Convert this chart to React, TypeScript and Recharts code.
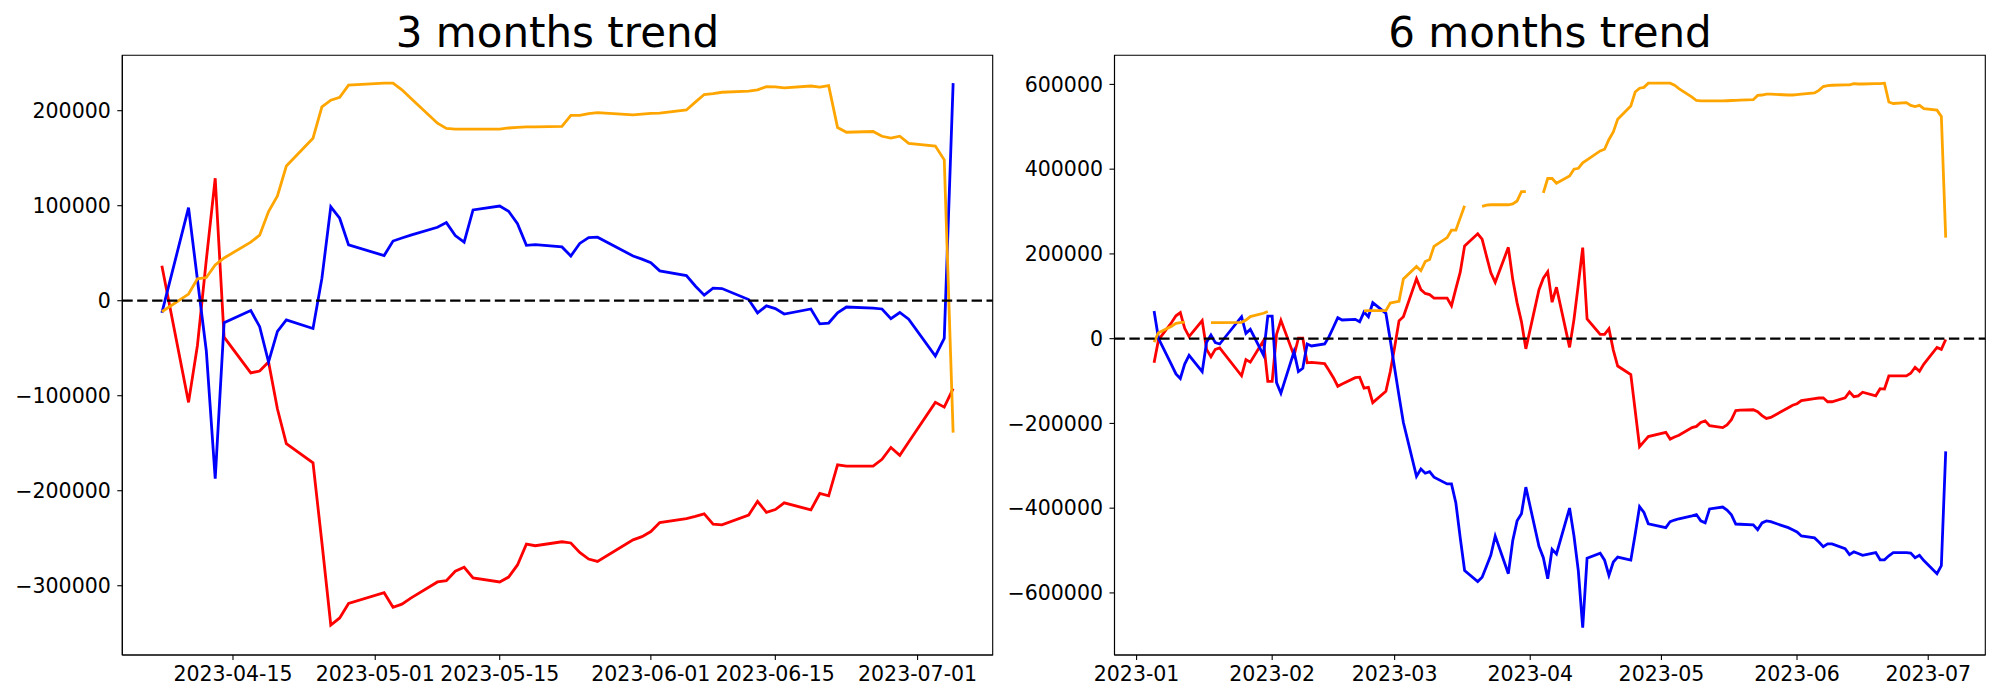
import React from 'react';
import { LineChart, Line, XAxis, YAxis, ReferenceLine, ReferenceArea } from 'recharts';

// ---- 3 months window (trading days) ----
const dates3m = [
  '2023-04-07', '2023-04-10', '2023-04-11', '2023-04-12', '2023-04-13', '2023-04-14',
  '2023-04-17', '2023-04-18', '2023-04-19', '2023-04-20', '2023-04-21',
  '2023-04-24', '2023-04-25', '2023-04-26', '2023-04-27', '2023-04-28',
  '2023-05-02', '2023-05-03', '2023-05-04', '2023-05-05',
  '2023-05-08', '2023-05-09', '2023-05-10', '2023-05-11', '2023-05-12',
  '2023-05-15', '2023-05-16', '2023-05-17', '2023-05-18', '2023-05-19',
  '2023-05-22', '2023-05-23', '2023-05-24', '2023-05-25', '2023-05-26',
  '2023-05-30', '2023-05-31', '2023-06-01', '2023-06-02',
  '2023-06-05', '2023-06-06', '2023-06-07', '2023-06-08', '2023-06-09',
  '2023-06-12', '2023-06-13', '2023-06-14', '2023-06-15', '2023-06-16',
  '2023-06-19', '2023-06-20', '2023-06-21', '2023-06-22', '2023-06-23',
  '2023-06-26', '2023-06-27', '2023-06-28', '2023-06-29', '2023-06-30',
  '2023-07-03', '2023-07-04', '2023-07-05',
];
const red3m = [
  36800, -107000, -47100, 43000, 128900, -38400, -76000, -74000, -64500, -114000, -150400,
  -170700, -254500, -341300, -333900, -318600,
  -307400, -322700, -319400, -313000, -296000, -294600, -284700, -280600, -291700,
  -296000, -290900, -278100, -256200, -257900, -253700, -255000, -264900, -271900, -274400,
  -251700, -248300, -243000, -233500,
  -229300, -227000, -224400, -235100, -236000, -225600, -211200, -222700, -219800, -212800,
  -220200, -202900, -205400, -172700, -174000, -174000, -166900, -154500, -162800, -148800,
  -107000, -112000, -92600,
];
const blue3m = [
  -12800, 97900, 22300, -52900, -187200, -23100, -10300, -27300, -64500, -32200, -20200,
  -29300, 23500, 98800, 86800, 58700,
  47500, 62800, 66000, 69000, 77300, 82200, 68600, 61600, 95500,
  99600, 94200, 81000, 58300, 59100, 56600, 47100, 60300, 66500, 66900,
  47100, 43800, 40100, 31400,
  26400, 15500, 5800, 13200, 12800, 1200, -12800, -5400, -8300, -14000,
  -8700, -24400, -23500, -12800, -6600, -7900, -8700, -19000, -12400, -19400,
  -58200, -39700, 229000,
];
const orange3m = [
  -11600, 7000, 23100, 24400, 37600, 45000, 61600, 69000, 93800, 110300, 141700,
  171000, 204000, 211000, 214000, 226900,
  229000, 229000, 222000, 213000, 186800, 181400, 180600, 180600, 180600,
  180600, 181800, 182500, 183000, 183000, 183500, 195000, 195000, 197000, 198000,
  195500, 196300, 197100, 197500,
  200800, 209000, 217000, 218000, 219400, 220700, 221900, 225200, 225000, 224000,
  226000, 224800, 226400, 182200, 177300, 178100, 173100, 171100, 173100, 165700,
  162800, 148300, -138800,
];

// ---- 6 months window (trading days) ----
const dates6m = [
  '2023-01-05', '2023-01-06', '2023-01-09', '2023-01-10', '2023-01-11', '2023-01-12', '2023-01-13',
  '2023-01-16', '2023-01-17', '2023-01-18', '2023-01-19', '2023-01-20',
  '2023-01-25', '2023-01-26', '2023-01-27', '2023-01-30', '2023-01-31',
  '2023-02-01', '2023-02-02', '2023-02-03', '2023-02-06', '2023-02-07', '2023-02-08', '2023-02-09',
  '2023-02-10', '2023-02-13', '2023-02-14', '2023-02-15', '2023-02-16', '2023-02-17',
  '2023-02-20', '2023-02-21', '2023-02-22', '2023-02-23', '2023-02-24', '2023-02-27', '2023-02-28',
  '2023-03-01', '2023-03-02', '2023-03-03', '2023-03-06', '2023-03-07', '2023-03-08', '2023-03-09',
  '2023-03-10', '2023-03-13', '2023-03-14', '2023-03-15', '2023-03-16', '2023-03-17',
  '2023-03-20', '2023-03-21', '2023-03-22', '2023-03-23', '2023-03-24',
  '2023-03-27', '2023-03-28', '2023-03-29', '2023-03-30', '2023-03-31',
  '2023-04-03', '2023-04-04', '2023-04-05', '2023-04-06', '2023-04-07',
  '2023-04-10', '2023-04-11', '2023-04-12', '2023-04-13', '2023-04-14',
  '2023-04-17', '2023-04-18', '2023-04-19', '2023-04-20', '2023-04-21',
  '2023-04-24', '2023-04-25', '2023-04-26', '2023-04-27', '2023-04-28',
  '2023-05-02', '2023-05-03', '2023-05-04', '2023-05-05',
  '2023-05-08', '2023-05-09', '2023-05-10', '2023-05-11', '2023-05-12',
  '2023-05-15', '2023-05-16', '2023-05-17', '2023-05-18', '2023-05-19',
  '2023-05-22', '2023-05-23', '2023-05-24', '2023-05-25', '2023-05-26',
  '2023-05-30', '2023-05-31', '2023-06-01', '2023-06-02',
  '2023-06-05', '2023-06-06', '2023-06-07', '2023-06-08', '2023-06-09',
  '2023-06-12', '2023-06-13', '2023-06-14', '2023-06-15', '2023-06-16',
  '2023-06-19', '2023-06-20', '2023-06-21', '2023-06-22', '2023-06-23',
  '2023-06-26', '2023-06-27', '2023-06-28', '2023-06-29', '2023-06-30',
  '2023-07-03', '2023-07-04', '2023-07-05',
];
const red6m = [
  -57000, -3000, 38000, 54000, 61500, 24400, 5000, 42700, -25200, -42500, -25200, -22000,
  -87600, -49500, -55500, -5000, -100700,
  -100700, 10000, 43500, -40000, 1000, 1000, -57000, -56000, -59000, -75000, -92000, -112300, -106800,
  -92000, -91000, -117000, -115000, -151000, -124000, -78000,
  -20000, 42000, 52000, 141300, 115700, 106700, 104000, 95900, 95900, 77800, 118000, 157000, 219000,
  247500, 235000, 195000, 155500, 133000, 215500, 140000, 84500, 39700, -24000,
  115700, 142700, 158000, 86000, 121500, -20500, 45000, 128000, 215000, 46500,
  10000, 10000, 23500, -27000, -64600, -85000, -170000, -255000, -243000, -231000,
  -221000, -237000, -232000, -228000, -210000, -207000, -197600, -193900, -205100,
  -209800, -203300, -191100, -169500, -168600, -167700, -172400, -181700, -188300, -186000,
  -163000, -157000, -153600, -146100,
  -141400, -140000, -139600, -148900, -148900, -139600, -125500, -136800, -134900, -126500,
  -134900, -118000, -118900, -88000, -88000, -88000, -81500, -67400, -76800, -60000,
  -20600, -25300, -1900,
];
const blue6m = [
  65200, 800, -62000, -83300, -94000, -60000, -39500, -78000, -8600, 8600, -9400, -12600,
  51800, 12600, 22000, -38500, 53400,
  53400, -103600, -128800, -30600, -77700, -69900, -12600, -17300, -12600, 4700, 27000, 49500, 44000,
  45500, 40000, 62800, 51800, 84800, 59700, -3100,
  -70000, -135000, -197900, -325000, -307500, -317600, -313800, -327000, -342900, -342900, -387800, -470000, -547000,
  -573300, -563000, -537000, -510600, -465600, -554600, -476800, -430000, -413100, -350300,
  -489900, -517000, -566600, -497200, -508000, -399800, -465000, -548000, -682000, -518100,
  -506400, -522700, -558700, -527100, -515400, -522700, -461400, -396500, -410000, -437000,
  -446000, -431600, -428000, -425000, -418000, -415000, -430000, -434700, -401900,
  -397300, -404700, -415900, -437500, -438000, -439300, -450600, -434700, -430000, -432000,
  -446000, -451000, -456200, -465500,
  -470200, -480000, -490800, -484300, -484300, -495500, -509600, -503000, -506800, -511400,
  -504900, -521800, -521800, -512400, -504900, -505000, -506000, -517100, -511400, -523600,
  -554500, -535800, -266000,
];
const orange6m = [
  -8000, 14000, 29000, 36000, 38000, 39000, null, null, null, 38000, 38000, 38000,
  38500, 44000, 52000, 60000, 64000,
  null, null, null, null, null, null, null, null, null, null, null, null, null,
  null, null, 65500, 66000, 66000, 66000, 84000,
  86000, 88000, 141000, 170500, 160500, 182000, 187000, 218000, 238500, 256000, 256000, 285000, 313500,
  null, 312000, 315000, 316000, 316000, 316000, 318000, 325000, 347000, 347000,
  null, 344000, 378000, 378000, 367000, 384000, 400000, 402000, 415000, 422000,
  443000, 447000, 470000, 488000, 518000, 549000, 582000, 591000, 593000, 603000,
  603000, 603000, 598000, 590000, 570000, 562000, 561000, 561000, 561000,
  561000, 561500, 562000, 562500, 563000, 564000, 574000, 575000, 577000, 577000,
  575000, 575000, 576000, 577000,
  580000, 586000, 595000, 597000, 598000, 599000, 599000, 602000, 601000, 601000,
  602000, 602000, 603000, 558600, 555000, 557000, 550500, 547700, 550500, 543000,
  539300, 524400, 238500,
];

const xTicks3m = ['2023-04-15', '2023-05-01', '2023-05-15', '2023-06-01', '2023-06-15', '2023-07-01'];
const xTicks6m = ['2023-01-01', '2023-02-01', '2023-03-01', '2023-04-01', '2023-05-01', '2023-06-01', '2023-07-01'];
const yTicks3m = [-300000, -200000, -100000, 0, 100000, 200000];
const yTicks6m = [-600000, -400000, -200000, 0, 200000, 400000, 600000];

const toTime = (d: string) => Date.parse(d);

function buildRows(dates: string[], red: (number | null)[], blue: (number | null)[], orange: (number | null)[]) {
  return dates.map((d, i) => ({ t: toTime(d), red: red[i], blue: blue[i], orange: orange[i] }));
}

// matplotlib style 5% padding around the date range
function paddedRange(dates: string[]): [number, number] {
  const a = toTime(dates[0]);
  const b = toTime(dates[dates.length - 1]);
  const m = (b - a) * 0.05;
  return [a - m, b + m];
}

const fmtValue = (v: number) => (v < 0 ? '\u2212' + Math.abs(v) : String(v));
const fmtDay = (t: number) => new Date(t).toISOString().slice(0, 10);
const fmtMonth = (t: number) => new Date(t).toISOString().slice(0, 7);

const FONT = '"DejaVu Sans", "Liberation Sans", sans-serif';
const tickStyle = { fill: '#000', fontSize: 20.5, fontFamily: FONT };

type PanelProps = {
  rows: any[];
  xDomain: [number, number];
  xTicks: number[];
  xFormat: (t: number) => string;
  yDomain: [number, number];
  yTicks: number[];
  yAxisWidth: number;
  marginRight: number;
};

function TrendPanel({ rows, xDomain, xTicks, xFormat, yDomain, yTicks, yAxisWidth, marginRight }: PanelProps) {
  return (
    <LineChart width={1000} height={700} data={rows} margin={{ top: 55.3, right: marginRight, bottom: 0, left: 0 }}>
      <XAxis
        dataKey="t"
        type="number"
        domain={xDomain}
        allowDataOverflow
        ticks={xTicks}
        interval={0}
        tickFormatter={xFormat}
        height={45}
        tick={tickStyle}
        tickSize={5}
        tickMargin={6.5}
        tickLine={{ stroke: '#000', strokeWidth: 1.1 }}
        axisLine={{ stroke: '#000', strokeWidth: 1.1 }}
      />
      <YAxis
        type="number"
        domain={yDomain}
        allowDataOverflow
        ticks={yTicks}
        interval={0}
        tickFormatter={fmtValue}
        width={yAxisWidth}
        tick={tickStyle}
        tickSize={5}
        tickMargin={6.5}
        tickLine={{ stroke: '#000', strokeWidth: 1.1 }}
        axisLine={{ stroke: '#000', strokeWidth: 1.1 }}
      />
      <Line type="linear" dataKey="red" stroke="#ff0000" strokeWidth={2.8} dot={false} isAnimationActive={false} />
      <Line type="linear" dataKey="blue" stroke="#0000ff" strokeWidth={2.8} dot={false} isAnimationActive={false} />
      <Line type="linear" dataKey="orange" stroke="#ffa500" strokeWidth={2.8} dot={false} isAnimationActive={false} />
      <ReferenceLine y={0} stroke="#000" strokeWidth={2.3} strokeDasharray="10.4 4.5" />
      <ReferenceArea
        x1={xDomain[0]}
        x2={xDomain[1]}
        y1={yDomain[0]}
        y2={yDomain[1]}
        fill="none"
        fillOpacity={0}
        stroke="#000"
        strokeWidth={1.1}
        ifOverflow="visible"
      />
    </LineChart>
  );
}

export default function App() {
  const rows3m = buildRows(dates3m, red3m, blue3m, orange3m);
  const rows6m = buildRows(dates6m, red6m, blue6m, orange6m);
  return (
    <div style={{ position: 'absolute', left: 0, top: 0, width: 2000, height: 700, background: '#fff', fontFamily: FONT }}>
      <div style={{ position: 'absolute', left: 0, top: 0 }}>
        <TrendPanel
          rows={rows3m}
          xDomain={paddedRange(dates3m)}
          xTicks={xTicks3m.map(toTime)}
          xFormat={fmtDay}
          yDomain={[-372900, 258300]}
          yTicks={yTicks3m}
          yAxisWidth={122.3}
          marginRight={7.3}
        />
      </div>
      <div style={{ position: 'absolute', left: 1000, top: 0 }}>
        <TrendPanel
          rows={rows6m}
          xDomain={paddedRange(dates6m)}
          xTicks={xTicks6m.map(toTime)}
          xFormat={fmtMonth}
          yDomain={[-746500, 668700]}
          yTicks={yTicks6m}
          yAxisWidth={114.5}
          marginRight={14.7}
        />
      </div>
      <svg width={2000} height={700} style={{ position: 'absolute', left: 0, top: 0, pointerEvents: 'none' }}>
        <text x={557.5} y={47} textAnchor="middle" fontSize={42} fontFamily={FONT} fill="#000">3 months trend</text>
        <text x={1550} y={47} textAnchor="middle" fontSize={42} fontFamily={FONT} fill="#000">6 months trend</text>
      </svg>
    </div>
  );
}
